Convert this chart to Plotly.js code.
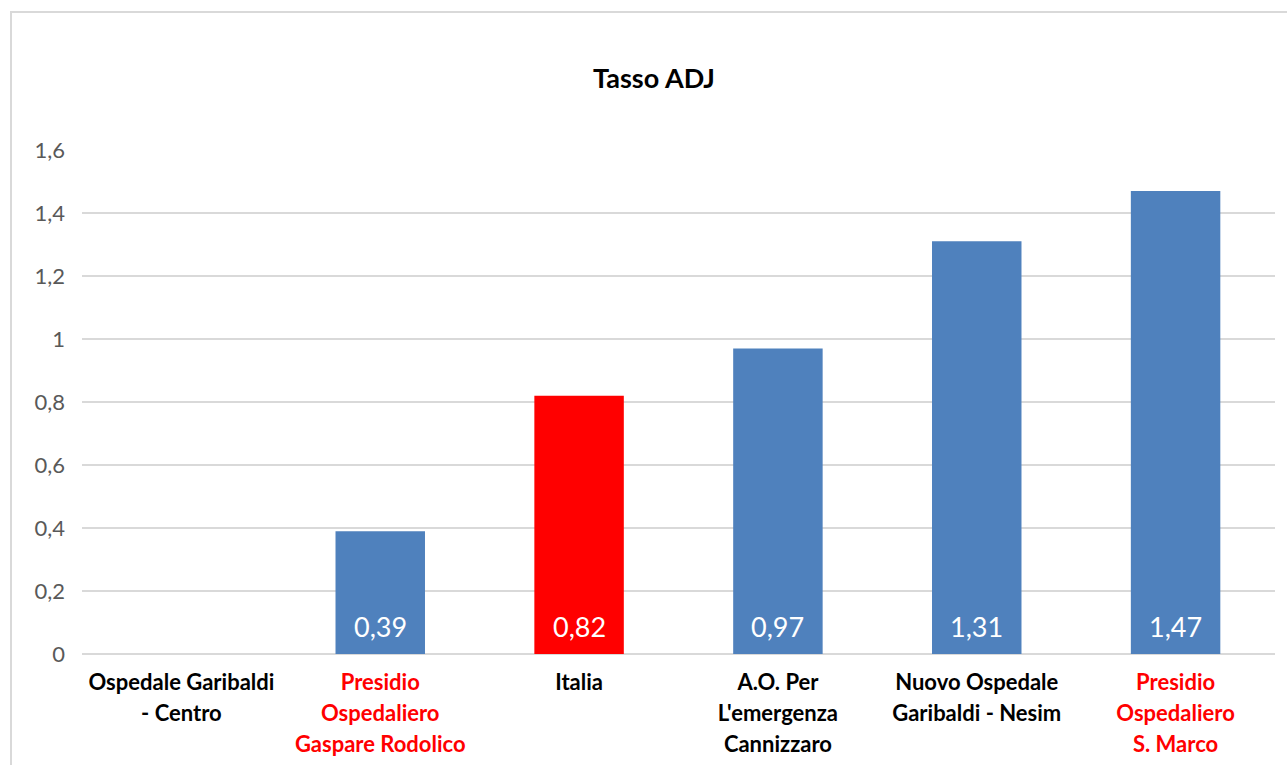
<!DOCTYPE html>
<html>
<head>
<meta charset="utf-8">
<script src="https://cdn.plot.ly/plotly-3.0.1.min.js"></script>
<style>
  html, body { margin: 0; padding: 0; background: #fff; }
  #chart { width: 1287px; height: 765px; }
</style>
</head>
<body>
<div id="chart"></div>
<script>
// ---- data ----
const categories = [
  'Ospedale Garibaldi - Centro',
  'Presidio Ospedaliero Gaspare Rodolico',
  'Italia',
  "A.O. Per L'emergenza Cannizzaro",
  'Nuovo Ospedale Garibaldi - Nesim',
  'Presidio Ospedaliero S. Marco'
];
const tickLines = [
  ['Ospedale Garibaldi', '- Centro'],
  ['Presidio', 'Ospedaliero', 'Gaspare Rodolico'],
  ['Italia'],
  ['A.O. Per', "L'emergenza", 'Cannizzaro'],
  ['Nuovo Ospedale', 'Garibaldi - Nesim'],
  ['Presidio', 'Ospedaliero', 'S. Marco']
];
const values = [null, 0.39, 0.82, 0.97, 1.31, 1.47];
const benchmark = 'Italia';
const highlightPrefix = 'Presidio';
const yTicks = [0, 0.2, 0.4, 0.6, 0.8, 1, 1.2, 1.4, 1.6];

// ---- styling ----
const BLUE = '#4f81bd';
const RED = '#ff0000';
const FONT = 'Lato, "Open Sans", sans-serif';

const barColors = categories.map(c => c === benchmark ? RED : BLUE);
const tickText = categories.map((c, i) => {
  const col = c.startsWith(highlightPrefix) ? RED : '#000000';
  return tickLines[i].map(l => `<span style="font-size:22px;fill:${col}">${l}</span>`).join('<br>');
});

const fmt = v => v.toFixed(2).replace('.', ',');

const annotations = categories
  .map((c, i) => values[i] == null ? null : {
    x: c, y: 0, xref: 'x', yref: 'y',
    text: fmt(values[i]),
    showarrow: false,
    yanchor: 'middle', yshift: 28,
    font: {family: FONT, size: 27, color: '#ffffff'}
  })
  .filter(a => a);

// chart frame (pixel -> paper)
const L = 82, R = 12, T = 150, B = 111, W = 1287, H = 765;
const pw = W - L - R, ph = H - T - B;
const px2x = p => (p - L) / pw;
const py2y = p => (H - B - p) / ph;

const trace = {
  type: 'bar',
  x: categories,
  y: values,
  marker: {color: barColors, line: {width: 0}},
  width: 0.45,
  hoverinfo: 'skip'
};

const layout = {
  width: W, height: H,
  margin: {l: L, r: R, t: T, b: B, pad: 0},
  paper_bgcolor: '#ffffff',
  plot_bgcolor: '#ffffff',
  separators: ',.',
  showlegend: false,
  title: {
    text: '<b>Tasso ADJ</b>',
    font: {family: FONT, size: 27, color: '#000000'},
    xref: 'container', yref: 'container',
    x: 654 / W, xanchor: 'center',
    y: 1 - 79 / H, yanchor: 'middle'
  },
  xaxis: {
    type: 'category',
    tickmode: 'array',
    tickvals: categories,
    ticktext: tickText,
    tickfont: {family: FONT, size: 24, color: '#000000', weight: 700},
    showgrid: false, showline: false, zeroline: false,
    ticks: '', ticklabelstandoff: 11,
    range: [-0.5, categories.length - 0.5],
    fixedrange: true
  },
  yaxis: {
    range: [0, 1.6],
    tickmode: 'array',
    tickvals: yTicks,
    ticktext: yTicks.map(v => String(v).replace('.', ',')),
    tickfont: {family: FONT, size: 22, color: '#595959'},
    showgrid: true, gridcolor: '#d9d9d9', gridwidth: 1.5,
    zeroline: true, zerolinecolor: '#d9d9d9', zerolinewidth: 1.5,
    showline: false, ticks: '',
    ticklabelstandoff: 16,
    fixedrange: true
  },
  annotations: annotations,
  shapes: [{
    type: 'rect', xref: 'paper', yref: 'paper',
    x0: px2x(11), x1: px2x(1300), y0: py2y(780), y1: py2y(12),
    line: {color: '#d9d9d9', width: 2},
    fillcolor: 'rgba(0,0,0,0)', layer: 'below'
  }]
};

Plotly.newPlot('chart', [trace], layout, {displayModeBar: false, staticPlot: true});
</script>
</body>
</html>
